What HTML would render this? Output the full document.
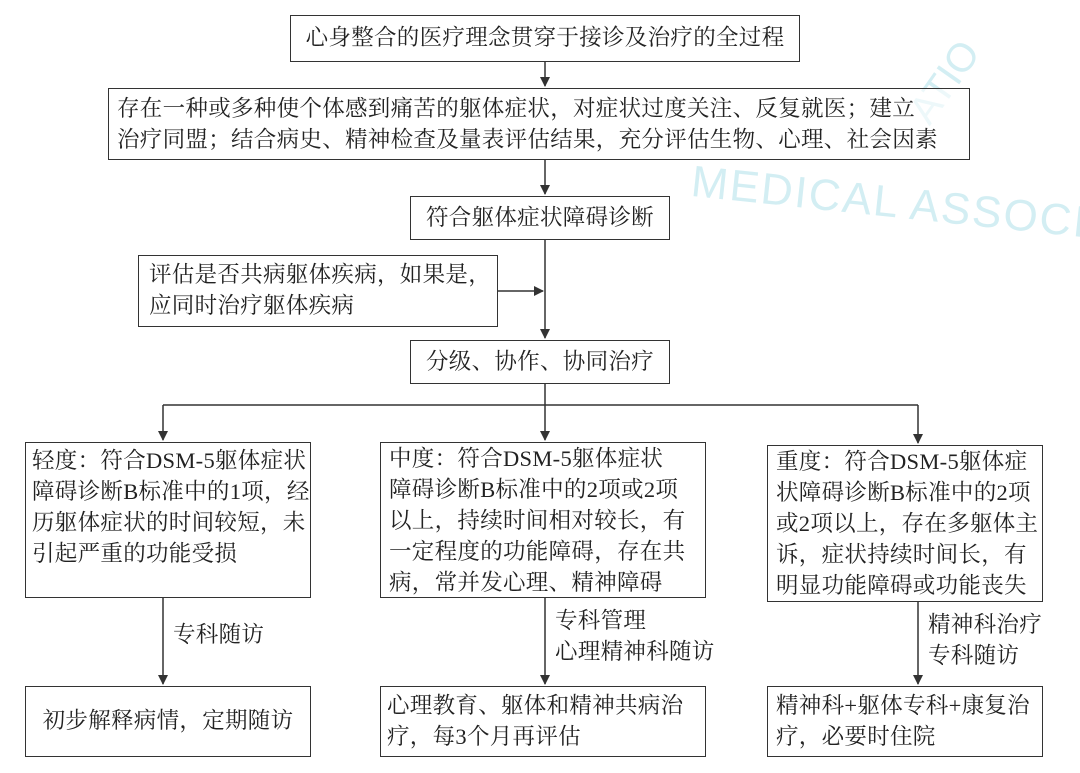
<!DOCTYPE html>
<html><head><meta charset="utf-8"><style>
body{margin:0;width:1080px;height:773px;background:#fff;position:relative;overflow:hidden;font-family:"Liberation Serif","Noto Serif CJK SC","Noto Sans CJK SC",serif;color:#222}
.b{position:absolute;border:1.5px solid #333;box-sizing:border-box;background:rgba(255,255,255,0.6);font-size:22.5px;line-height:31px;padding:2px 6px;white-space:nowrap;letter-spacing:0.3px}
.t{position:absolute;font-size:22.5px;line-height:31px;white-space:nowrap;letter-spacing:0.3px}
svg{position:absolute;left:0;top:0}
.wm{position:absolute;color:#d3eef3;font-family:"Liberation Sans",sans-serif;font-size:44px;white-space:nowrap}
</style></head><body>
<div class="wm" style="left:690px;top:185px;transform:rotate(6deg);letter-spacing:2px">MEDICAL ASSOCIATION</div>
<div class="wm" style="left:900px;top:60px;transform:rotate(-55deg);font-size:40px">ATIO</div>
<svg width="1080" height="773">
<defs><marker id="a" markerWidth="10" markerHeight="10" refX="9" refY="5" orient="auto" markerUnits="userSpaceOnUse"><path d="M0,0 L10,5 L0,10z" fill="#333"/></marker></defs>
<g stroke="#333" stroke-width="1.5" fill="none">
<line x1="545" y1="62" x2="545" y2="86" marker-end="url(#a)"/>
<line x1="545" y1="160" x2="545" y2="194" marker-end="url(#a)"/>
<line x1="545" y1="240" x2="545" y2="338" marker-end="url(#a)"/>
<line x1="498" y1="291" x2="543" y2="291" marker-end="url(#a)"/>
<line x1="545" y1="384" x2="545" y2="405"/>
<line x1="163" y1="405" x2="918" y2="405"/>
<line x1="163" y1="405" x2="163" y2="440" marker-end="url(#a)"/>
<line x1="545" y1="405" x2="545" y2="440" marker-end="url(#a)"/>
<line x1="918" y1="405" x2="918" y2="443" marker-end="url(#a)"/>
<line x1="163" y1="598" x2="163" y2="684" marker-end="url(#a)"/>
<line x1="545" y1="598" x2="545" y2="684" marker-end="url(#a)"/>
<line x1="918" y1="602" x2="918" y2="684" marker-end="url(#a)"/>
</g></svg>
<div class="b" style="left:290px;top:15px;width:510px;height:47px;padding:6px 0 0;text-align:center">心身整合的医疗理念贯穿于接诊及治疗的全过程</div>
<div class="b" style="left:108px;top:88px;width:862px;height:72px;padding:4px 8px">存在一种或多种使个体感到痛苦的躯体症状，对症状过度关注、反复就医；建立<br>治疗同盟；结合病史、精神检查及量表评估结果，充分评估生物、心理、社会因素</div>
<div class="b" style="left:410px;top:196px;width:260px;height:44px;padding:5px 0 0;text-align:center">符合躯体症状障碍诊断</div>
<div class="b" style="left:138px;top:255px;width:360px;height:72px;padding:3px 10px">评估是否共病躯体疾病，如果是，<br>应同时治疗躯体疾病</div>
<div class="b" style="left:410px;top:340px;width:260px;height:44px;padding:5px 0 0;text-align:center">分级、协作、协同治疗</div>
<div class="b" style="left:25px;top:442px;width:286px;height:156px;padding:2px 6px">轻度：符合DSM-5躯体症状<br>障碍诊断B标准中的1项，经<br>历躯体症状的时间较短，未<br>引起严重的功能受损</div>
<div class="b" style="left:380px;top:442px;width:326px;height:156px;padding:0 8px">中度：符合DSM-5躯体症状<br>障碍诊断B标准中的2项或2项<br>以上，持续时间相对较长，有<br>一定程度的功能障碍，存在共<br>病，常并发心理、精神障碍</div>
<div class="b" style="left:767px;top:445px;width:276px;height:157px;padding:0 8px">重度：符合DSM-5躯体症<br>状障碍诊断B标准中的2项<br>或2项以上，存在多躯体主<br>诉，症状持续时间长，有<br>明显功能障碍或功能丧失</div>
<div class="t" style="left:173px;top:619px">专科随访</div>
<div class="t" style="left:555px;top:605px">专科管理<br>心理精神科随访</div>
<div class="t" style="left:928px;top:609px">精神科治疗<br>专科随访</div>
<div class="b" style="left:25px;top:686px;width:286px;height:71px;padding:18px 0 0;text-align:center">初步解释病情，定期随访</div>
<div class="b" style="left:380px;top:686px;width:326px;height:71px;padding:3px 6px">心理教育、躯体和精神共病治<br>疗，每3个月再评估</div>
<div class="b" style="left:767px;top:686px;width:276px;height:71px;padding:3px 8px">精神科+躯体专科+康复治<br>疗，必要时住院</div>
</body></html>
